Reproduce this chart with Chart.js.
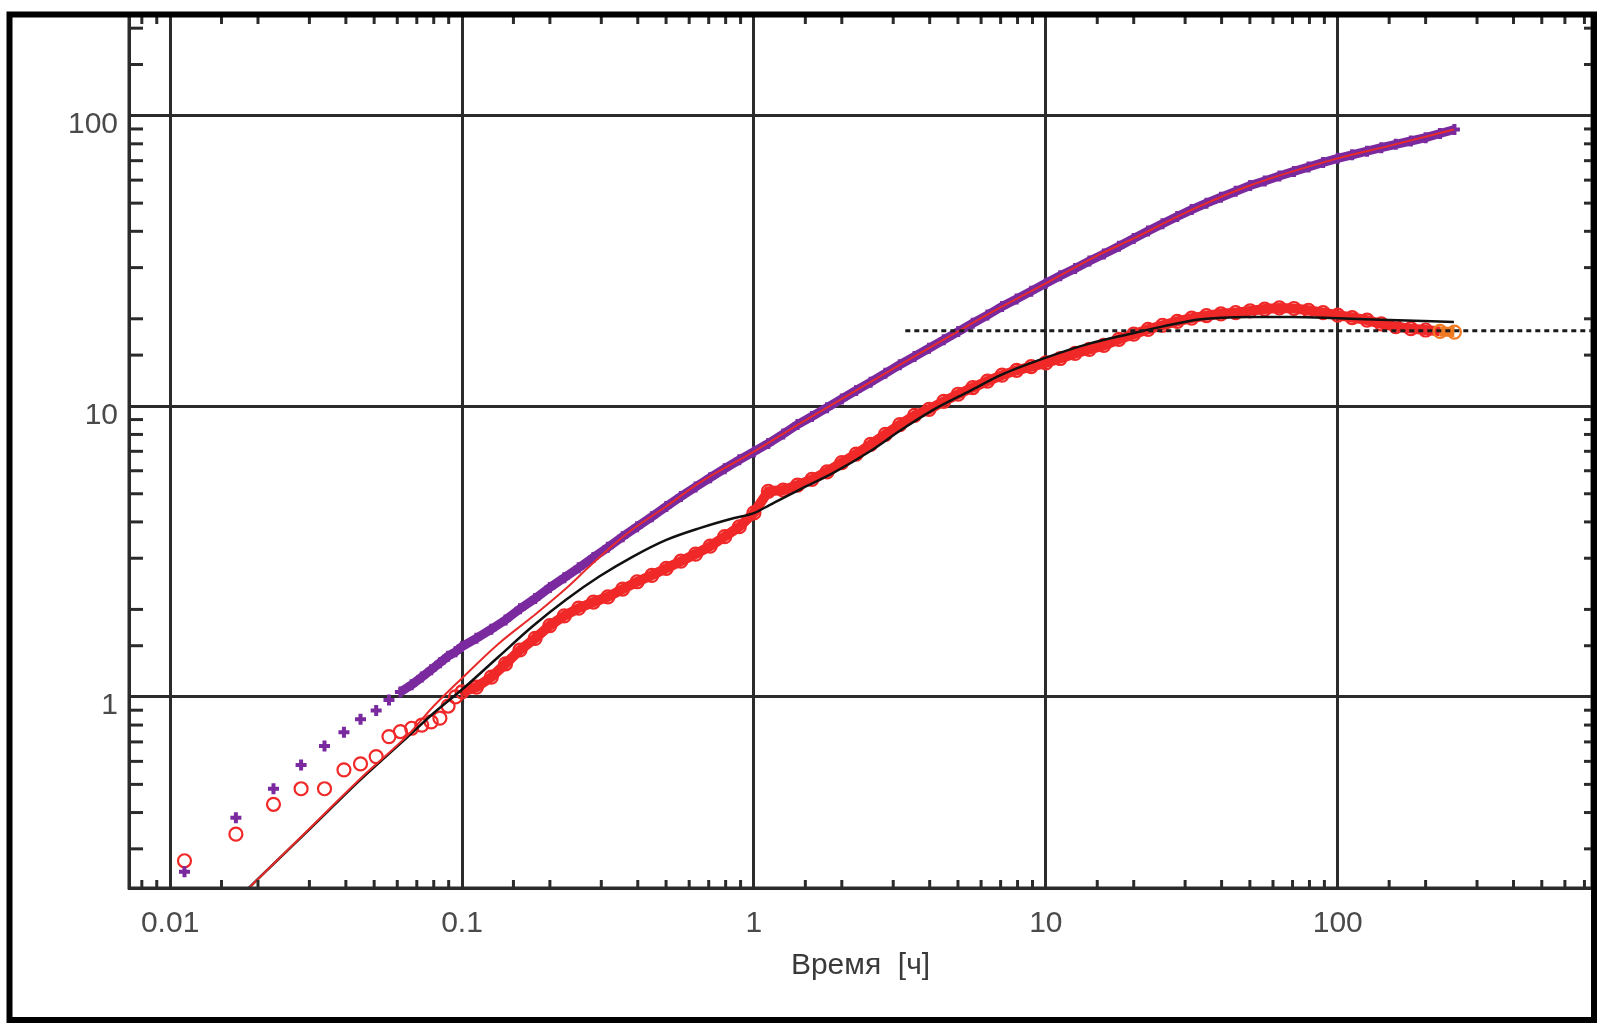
<!DOCTYPE html>
<html><head><meta charset="utf-8">
<script src="https://cdn.jsdelivr.net/npm/chart.js@4.4.0/dist/chart.umd.min.js"></script>
<style>html,body{margin:0;padding:0;background:#fff;overflow:hidden}#c{display:block}</style>
</head><body>
<canvas id="c" width="1606" height="1031"></canvas>
<script>
// ---------- data ----------
const xTickLabels = ['0.01', '0.1', '1', '10', '100'];
const yTickLabels = ['1', '10', '100'];
const xTitle = 'Время  [ч]';

// measured time [h]
const tData = [0.0112,0.0168,0.0226,0.0281,0.0338,0.0394,0.0449,0.0508,0.0562,0.0615,0.0672,0.0728,0.0784,0.084,0.0896,0.095,
  0.1,0.112,0.126,0.141,0.158,0.178,0.2,0.224,0.251,0.282,0.316,0.355,0.398,0.447,0.501,0.562,0.631,0.708,0.794,0.891,
  1,1.12,1.26,1.41,1.58,1.78,2,2.24,2.51,2.82,3.16,3.55,3.98,4.47,5.01,5.62,6.31,7.08,7.94,8.91,
  10,11.2,12.6,14.1,15.8,17.8,20,22.4,25.1,28.2,31.6,35.5,39.8,44.7,50.1,56.2,63.1,70.8,79.4,89.1,
  100,112,126,141,158,178,200,224,251];

// pressure change (purple +)
const pressure = [0.25,0.384,0.483,0.583,0.678,0.756,0.838,0.897,0.976,1.04,1.10,1.17,1.24,1.31,1.38,1.43,
  1.49,1.59,1.71,1.84,2.01,2.18,2.38,2.57,2.78,3.02,3.27,3.56,3.85,4.17,4.52,4.89,5.28,5.68,6.10,6.54,
  6.98,7.45,8.03,8.65,9.22,9.89,10.6,11.34,12.1,12.98,13.9,14.83,15.84,16.93,18.08,19.31,20.6,22.05,23.4,24.9,
  26.5,28.1,29.8,31.6,33.4,35.5,37.8,40.1,42.5,45.0,47.5,50.0,52.4,54.9,57.5,59.6,62.0,64.3,66.6,69.0,
  71.3,73.3,75.5,77.6,79.7,81.8,84.0,86.8,89.6];

// pressure derivative (red circles)
const derivative = [0.273,0.337,0.427,0.483,0.483,0.561,0.588,0.623,0.730,0.760,0.78,0.80,0.82,0.845,0.93,1.0,
  1.04,1.08,1.17,1.30,1.45,1.59,1.76,1.90,2.02,2.12,2.21,2.35,2.49,2.62,2.77,2.93,3.10,3.30,3.56,3.85,
  4.30,5.10,5.15,5.35,5.60,5.95,6.40,6.85,7.40,8.00,8.65,9.30,9.75,10.4,11.0,11.6,12.2,12.8,13.3,13.7,
  14.1,14.6,15.2,15.7,16.2,17.0,17.7,18.4,19.0,19.6,20.1,20.5,20.8,21.0,21.3,21.6,21.8,21.7,21.4,21.0,
  20.6,20.2,19.8,19.2,18.8,18.5,18.3,18.1,18.0];

// model pressure (thin red line)
const tModelP = [0.015,0.0198,0.03,0.045,0.0653,0.08,0.1,0.134,0.1745,0.227,0.27,0.32,0.385,0.5,0.65,1,1.45,2,3.17,5,6.94,10,15,20,30,50,100,150,250];
const modelPressure = [0.178,0.234,0.352,0.525,0.74,0.93,1.16,1.53,1.89,2.36,2.78,3.25,3.78,4.52,5.45,6.98,8.77,10.6,13.9,18.1,21.8,26.5,33.0,37.8,46.3,57.5,71.3,78.7,89.6];

// model derivative (black line)
const tModelD = [0.015,0.0198,0.03,0.045,0.0653,0.08,0.1,0.134,0.1745,0.227,0.296,0.385,0.501,0.652,0.85,1.0,1.135,1.45,1.87,2.5,3.2,4.1,5.5,7.0,10,14,19.7,25,33.4,50,70,100,150,250];
const modelDerivative = [0.178,0.234,0.35,0.52,0.73,0.88,1.06,1.38,1.75,2.16,2.60,3.04,3.47,3.81,4.12,4.29,4.58,5.2,5.9,7.0,8.3,9.7,11.3,12.8,14.7,16.4,17.8,18.8,19.9,20.3,20.3,20.1,19.8,19.5];

// stabilised derivative level (dotted)
const stabX = [3.3, 743];
const stabY = [18.2, 18.2];

// ---------- chart ----------
const toXY = (xs, ys) => xs.map((x, i) => ({x, y: ys[i]}));
const isDecade = v => { const l = Math.log10(v); return Math.abs(l - Math.round(l)) < 1e-6; };
const FONT = {family: '"Liberation Sans", Arial, sans-serif', size: 30};
const TXT = '#4a4a4a';
const RED = '#f02828', PURPLE = '#7a2a9e', ORANGE = '#f07a22';

const framePlugin = {
  id: 'frame',
  afterDraw(chart) {
    const {ctx, chartArea: a, scales: {x, y}} = chart;
    ctx.save();
    ctx.strokeStyle = '#2b2b2b';
    ctx.lineWidth = 3;
    const seg = (x1, y1, x2, y2) => { ctx.beginPath(); ctx.moveTo(x1, y1); ctx.lineTo(x2, y2); ctx.stroke(); };
    x.ticks.forEach(t => {
      if (t.value <= x.min * 1.001 || t.value >= x.max * 0.999 || isDecade(t.value)) return;
      const px = x.getPixelForValue(t.value);
      seg(px, a.bottom, px, a.bottom - 8);
      seg(px, a.top, px, a.top + 9);
    });
    y.ticks.forEach(t => {
      if (t.value <= y.min * 1.001 || t.value >= y.max * 0.999 || isDecade(t.value)) return;
      const py = y.getPixelForValue(t.value);
      seg(a.left, py, a.left + 14, py);
      seg(a.right, py, a.right - 8, py);
    });
    ctx.strokeRect(a.left, a.top, a.right - a.left, a.bottom - a.top);
    ctx.strokeStyle = '#000';
    ctx.lineWidth = 6;
    ctx.strokeRect(9.5, 14.5, 1584.5, 1005.5);
    ctx.restore();
  }
};

new Chart(document.getElementById('c'), {
  type: 'scatter',
  data: {
    datasets: [
      {
        label: 'stab', data: toXY(stabX, stabY), showLine: true, pointRadius: 0,
        borderColor: '#1a1a1a', borderWidth: 3, borderDash: [5, 4], order: 0
      },
      {
        label: 'model pressure', data: toXY(tModelP, modelPressure), showLine: true, pointRadius: 0,
        borderColor: '#e82a2a', borderWidth: 2, cubicInterpolationMode: 'monotone', order: 1
      },
      {
        label: 'model derivative', data: toXY(tModelD, modelDerivative), showLine: true, pointRadius: 0,
        borderColor: '#111', borderWidth: 2.5, cubicInterpolationMode: 'monotone', order: 2
      },
      {
        label: 'pressure', data: toXY(tData, pressure), showLine: true,
        pointStyle: 'cross', pointRadius: 5.5, pointBorderWidth: 4,
        pointBorderColor: PURPLE, pointBackgroundColor: PURPLE,
        borderColor: PURPLE, borderWidth: 9,
        segment: { borderColor: c => c.p0.parsed.x >= 0.06 ? PURPLE : 'rgba(0,0,0,0)' },
        order: 3
      },
      {
        label: 'derivative', data: toXY(tData, derivative), showLine: true,
        pointStyle: 'circle', pointRadius: 6.5, pointBorderWidth: 2.2,
        pointBorderColor: tData.map(t => t > 210 ? ORANGE : RED),
        pointBackgroundColor: 'rgba(255,255,255,0)',
        borderColor: RED, borderWidth: 10,
        segment: { borderColor: c => c.p0.parsed.x < 0.099 ? 'rgba(0,0,0,0)' : (c.p0.parsed.x > 210 ? ORANGE : RED) },
        order: 4
      }
    ]
  },
  options: {
    responsive: false, animation: false, devicePixelRatio: 1,
    layout: {padding: {left: 0, right: 14, top: 15, bottom: 0}},
    plugins: {legend: {display: false}, tooltip: {enabled: false}},
    scales: {
      x: {
        type: 'logarithmic', min: 0.00723, max: 743,
        afterFit: s => { s.height = 143; s.paddingLeft = 0; s.paddingRight = 0; },
        border: {display: true, color: '#2b2b2b', width: 3},
        grid: {drawTicks: false, lineWidth: 3, color: c => (c.tick && isDecade(c.tick.value)) ? '#2b2b2b' : 'rgba(0,0,0,0)'},
        ticks: {
          autoSkip: false, maxRotation: 0, padding: 18, font: FONT, color: TXT,
          callback: v => { const s = String(+v.toPrecision(6)); return xTickLabels.includes(s) ? s : ''; }
        },
        title: {display: true, text: xTitle, font: FONT, color: '#3a3a3a', padding: {top: 0, bottom: 47}}
      },
      y: {
        type: 'logarithmic', min: 0.22, max: 222,
        afterFit: s => { s.width = 129; s.paddingTop = 0; s.paddingBottom = 0; },
        border: {display: true, color: '#2b2b2b', width: 3},
        grid: {drawTicks: false, lineWidth: 3, color: c => (c.tick && isDecade(c.tick.value)) ? '#2b2b2b' : 'rgba(0,0,0,0)'},
        ticks: {
          autoSkip: false, padding: 11, labelOffset: 9, font: FONT, color: TXT,
          callback: v => { const s = String(+v.toPrecision(6)); return yTickLabels.includes(s) ? s : ''; }
        }
      }
    }
  },
  plugins: [framePlugin]
});
</script>
</body></html>
